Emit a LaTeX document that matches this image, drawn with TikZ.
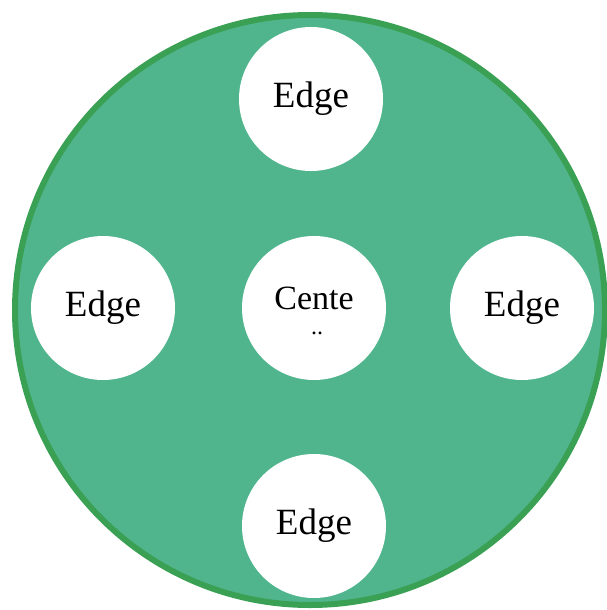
\documentclass[tikz,border=0pt]{standalone}
\usepackage{fontspec}
\setmainfont{Liberation Serif}
\definecolor{diskgreen}{RGB}{80,181,141}
\definecolor{rimgreen}{RGB}{58,160,84}
\tikzset{
  spot/.style={circle,fill=white,draw=none,inner sep=0pt,minimum size=144pt,
    font=\fontsize{37}{38}\selectfont},
}
\begin{document}
\begin{tikzpicture}[x=1pt,y=-1pt]
  \useasboundingbox (0,0) rectangle (607,610);
  \draw[line width=6pt,draw=rimgreen,fill=diskgreen] (310,310) circle (295);
  \node[spot] (top) at (311,99) {Edge};
  \node[spot] (left) at (103,308) {Edge};
  \node[spot] (right) at (522,308) {Edge};
  \node[spot] (bottom) at (314,526) {Edge};
  \node[spot] (center) at (314,308) {};
  \node[font=\fontsize{34}{36}\selectfont] (centertxt) at (314,298) {Cente};
  \node[font=\fontsize{24}{24}\selectfont,inner sep=0pt] (centerdots) at (317,333) {..};
\end{tikzpicture}
\end{document}
